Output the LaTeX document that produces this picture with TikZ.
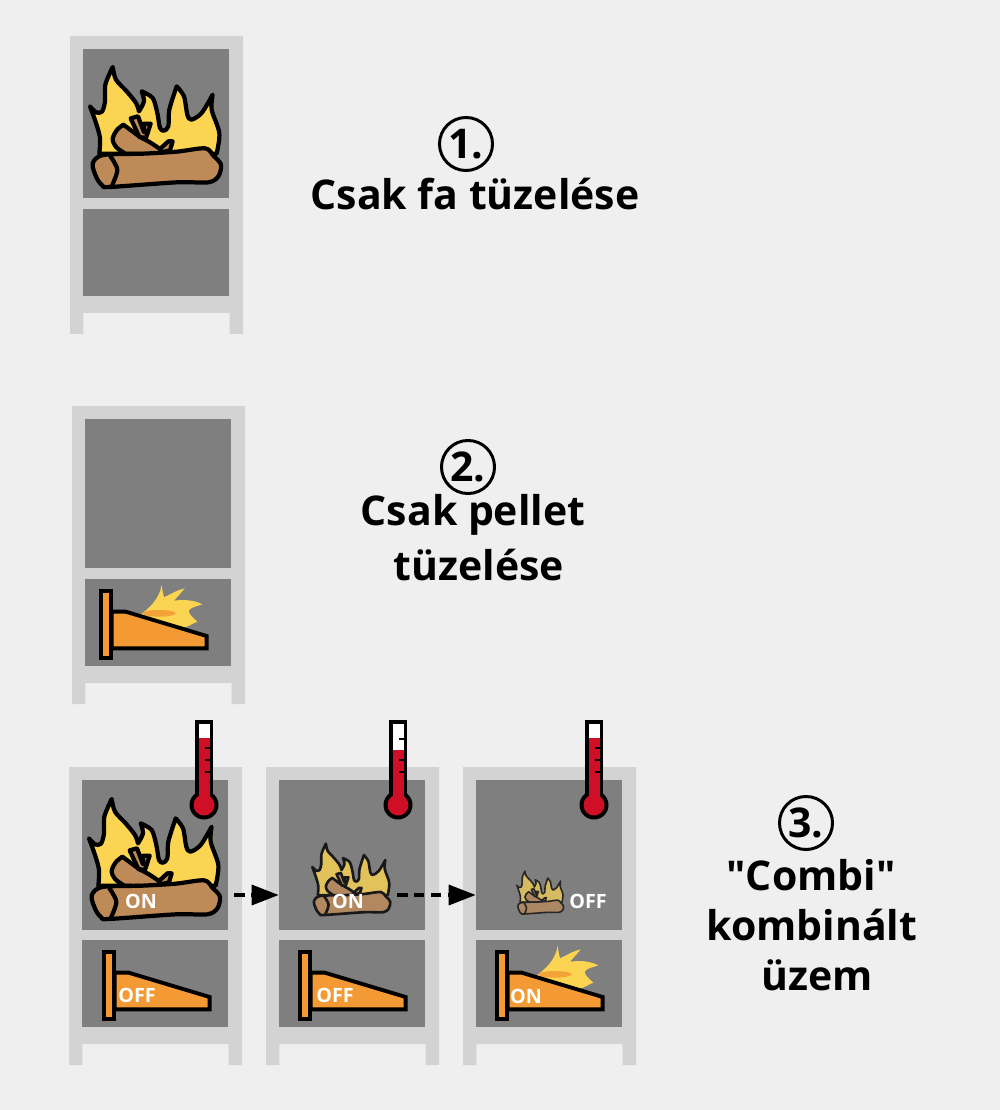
\documentclass[tikz,border=0pt]{standalone}
\usepackage{fontspec}
\setmainfont{Open Sans}
\newfontfamily\straightfont{Open Sans}
\usetikzlibrary{arrows.meta}
\definecolor{bgcol}{HTML}{EFEFEF}
\definecolor{framecol}{HTML}{D3D3D3}
\definecolor{wincol}{HTML}{7F7F7F}
\definecolor{flamecol}{HTML}{FBD452}
\definecolor{logcol}{HTML}{BE8A57}
\definecolor{burncol}{HTML}{F39A34}
\definecolor{redcol}{HTML}{CE0F25}
\tikzset{x=0.01cm,y=-0.01cm,
         title/.style={font=\bfseries\fontsize{11.65}{13}\selectfont,inner sep=0pt},
         state/.style={font=\bfseries\fontsize{5.6}{6}\selectfont,text=white,inner sep=0pt},
         numring/.style={draw,circle,line width=0.85pt,minimum size=0.53cm,inner sep=0pt,
                         font=\bfseries\fontsize{11.65}{13}\selectfont},
         stovewin/.style={fill=wincol,anchor=north west,inner sep=0pt,minimum width=1.456cm},
         flow/.style={dashed,dash pattern=on 3pt off 1.8pt,line width=0.95pt,
                      -{Triangle[length=0.27cm,width=0.2cm]}}}
% frame, large window, small window
\newcommand{\stove}[3]{%
  \begin{scope}[shift={(#2,#3)}]
    \fill[framecol] (0,0) -- (173,0) -- (173,298) -- (159.5,298) -- (159.5,277) -- (13.3,277)
      -- (13.3,298) -- (0,298) -- cycle;
    \node[stovewin,minimum height=1.494cm] (#1top) at (12.7,12.3) {};
    \node[stovewin,minimum height=0.867cm] (#1low) at (12.7,172.3) {};
  \end{scope}}
% x, y (bottom middle of the log), scale, percent of colour, line width
\newcommand{\logfire}[5]{%
  \begin{scope}[shift={(#1,#2)},scale=#3/3,shift={(-285,-472)},line width=#5,
                line join=round,draw=black!#4!wincol]
    \filldraw[fill=flamecol!#4!wincol]
      plot[smooth] coordinates {(118,372)(120,325)(108,280)(90,230)}
      -- plot[smooth] coordinates {(90,230)(108,248)(126,246)(135,215)(136,165)(158,112)}
      -- plot[smooth] coordinates {(158,112)(168,150)(200,185)(228,220)(237,245)}
      -- plot[smooth] coordinates {(237,245)(252,215)(245,185)}
      -- plot[smooth] coordinates {(245,185)(278,205)(292,250)(300,295)(312,303)(325,290)(328,240)(350,170)}
      -- plot[smooth] coordinates {(350,170)(372,200)(382,255)(394,270)(425,250)(458,195)}
      -- plot[smooth] coordinates {(458,195)(455,240)(478,310)(470,372)} -- cycle;
    \filldraw[fill=logcol!#4!wincol]
      plot[smooth] coordinates {(196,372)(168,352)(158,328)(170,302)(190,285)}
      -- (240,322) -- plot[smooth] coordinates {(240,322)(270,338)(300,358)}
      -- (325,335) -- (338,335) -- (330,362) -- (280,374) -- cycle;
    \filldraw[fill=logcol!#4!wincol]
      (212,266) -- (234,260) -- (252,308) -- (252,282) -- (272,282) -- (258,325) -- (238,322) -- cycle;
    \filldraw[fill=logcol!#4!wincol]
      plot[smooth cycle] coordinates {(98,402)(130,376)(250,372)(350,366)(435,356)(460,378)(483,405)(475,440)(445,458)(350,458)(150,472)(128,468)(110,445)};
    \draw plot[smooth] coordinates {(150,378)(172,420)(155,470)};
  \end{scope}}
% x, y of the plate's top left corner
\newcommand{\burner}[3][]{%
  \begin{scope}[shift={(#2,#3)},scale=1/3,shift={(-118,-60)},line width=1.1pt,line join=miter]
    \ifx\relax#1\relax\else
    \fill[flamecol] (235,137)
      .. controls (265,115) and (295,90) .. (303,45) .. controls (305,60) and (307,70) .. (310,82)
      .. controls (330,72) and (350,60) .. (372,55) .. controls (360,70) and (350,80) .. (340,92)
      .. controls (370,88) and (400,90) .. (425,103) .. controls (405,110) and (390,112) .. (384,122)
      .. controls (385,135) and (400,145) .. (410,155) .. controls (395,160) and (385,170) .. (370,172)
      -- cycle;
    \fill[burncol!85!flamecol] (295,130) ellipse [x radius=50,y radius=10];
    \fi
    \filldraw[fill=burncol] (153,125) -- (195,125) -- (438,198) -- (438,235) -- (153,235) -- cycle;
    \filldraw[fill=burncol] (122,63) rectangle (150,264);
  \end{scope}}
% x of the tube, y of the red level, y of the upper tick
\newcommand{\thermo}[3]{%
  \fill (#1-9.2,720) rectangle (#1+9.2,800);
  \fill (#1,805) circle (14.5);
  \fill[white] (#1-5.5,724) rectangle (#1+5.5,#2);
  \fill[redcol] (#1-5.5,#2) rectangle (#1+5.5,800);
  \fill[redcol] (#1,805) circle (10.5);
  \foreach \ticky in {#3,760,772} \draw[line width=0.55pt] (#1+1,\ticky) -- (#1+6,\ticky);}

\begin{document}
\begin{tikzpicture}
  \useasboundingbox[fill=bgcol] (0,0) rectangle (1000,1110);

  % only wood
  \stove{one}{70}{36}
  \logfire{155}{187}{1}{100}{1.2pt}
  \node[numring] (numone) at (466,144) {1.};
  \node[title] (textone) at (475,194) {Csak fa tüzelése};

  % only pellet
  \stove{two}{72}{406}
  \burner[flame]{100}{590}
  \node[numring] (numtwo) at (468,467) {2.};
  \node[title] (texttwo) at (473,515) {Csak pellet};
  \node[title] (texttwob) at (479,565) {tüzelése};

  % combi
  \stove{threea}{69}{767}
  \stove{threeb}{266}{767}
  \stove{threec}{463}{767}
  \thermo{204}{738}{748}
  \thermo{398}{750}{739}
  \thermo{594}{738}{748}

  \logfire{154}{919}{1}{100}{1.2pt}
  \logfire{351}{915}{0.595}{80}{0.75pt}
  \logfire{540}{914}{0.357}{70}{0.45pt}
  \burner{103}{951}
  \burner{299}{951}
  \burner[flame]{496}{951}

  \node[state] (logona) at (141,901) {ON};
  \node[state] (logonb) at (348,901) {ON};
  \node[state] (logoff) at (588,901) {OFF};
  \node[state] (burnoffa) at (137,995) {OFF};
  \node[state] (burnoffb) at (335,995) {OFF};
  \node[state] (burnon) at (526,996) {ON};

  \coordinate (flowa) at (234,895);
  \coordinate (flowb) at (397,895);
  \draw[flow] (flowa) -- (flowa -| threebtop.west);
  \draw[flow] (flowb) -- (flowb -| threectop.west);

  \node[numring] (numthree) at (806,823) {3.};
  \node[title] (textthree) at (811,875) {\straightfont\bfseries "Combi"};
  \node[title] (textthreeb) at (812,925) {kombinált};
  \node[title] (textthreec) at (817,975) {üzem};
\end{tikzpicture}
\end{document}
